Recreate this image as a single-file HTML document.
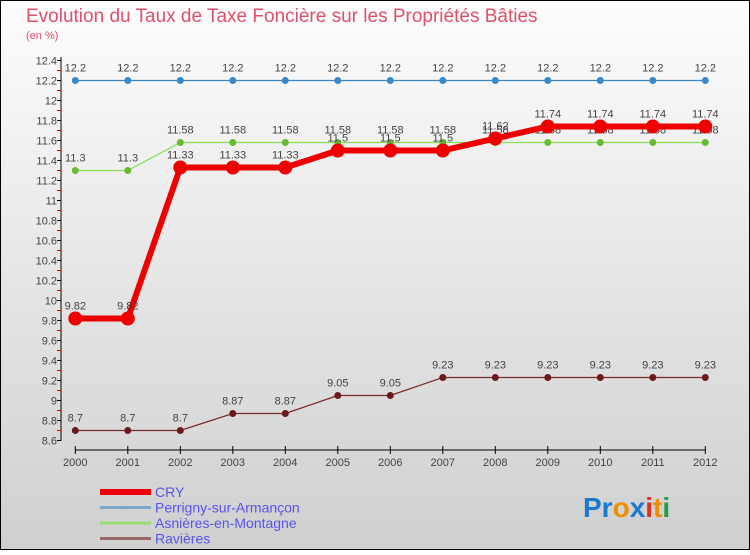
<!DOCTYPE html>
<html><head><meta charset="utf-8"><style>
body{margin:0}
svg text{font-family:"Liberation Sans",sans-serif}
</style></head><body>
<svg id="chart" width="750" height="550" xmlns="http://www.w3.org/2000/svg">
<defs><linearGradient id="bg" x1="0" y1="0" x2="0" y2="1"><stop offset="0" stop-color="#fdfdfd"/><stop offset="1" stop-color="#cfcfcf"/></linearGradient></defs>
<rect x="0.5" y="0.5" width="749" height="549" fill="url(#bg)" stroke="#000"/>
<text x="26" y="22" font-size="19" fill="#e0506a">Evolution du Taux de Taxe Foncière sur les Propriétés Bâties</text>
<text x="26" y="39" font-size="11" fill="#e0506a">(en %)</text>
<g id="axes"></g>
<g id="series"></g>
<g id="legend"></g>
<text x="583" y="517" font-size="28" font-weight="bold"><tspan fill="#1a7ad0">Pr</tspan><tspan fill="#f08c00">o</tspan><tspan fill="#1a7ad0">x</tspan><tspan fill="#e03020">i</tspan><tspan fill="#f08c00">t</tspan><tspan fill="#20a040">i</tspan></text>
</svg>
<script>
const years=[2000,2001,2002,2003,2004,2005,2006,2007,2008,2009,2010,2011,2012];
const yTicks=[8.6,8.8,9,9.2,9.4,9.6,9.8,10,10.2,10.4,10.6,10.8,11,11.2,11.4,11.6,11.8,12,12.2,12.4];
const cry=[9.82,9.82,11.33,11.33,11.33,11.5,11.5,11.5,11.62,11.74,11.74,11.74,11.74];
const perrigny=[12.2,12.2,12.2,12.2,12.2,12.2,12.2,12.2,12.2,12.2,12.2,12.2,12.2];
const asnieres=[11.3,11.3,11.58,11.58,11.58,11.58,11.58,11.58,11.58,11.58,11.58,11.58,11.58];
const ravieres=[8.7,8.7,8.7,8.87,8.87,9.05,9.05,9.23,9.23,9.23,9.23,9.23,9.23];
const names=["CRY","Perrigny-sur-Armançon","Asnières-en-Montagne","Ravières"];
const NS="http://www.w3.org/2000/svg";
const xS=i=>75.3+i*52.5;
const yS=v=>440.5-(v-8.6)/0.2*20;
function mk(tag,attrs,parent,txt){const e=document.createElementNS(NS,tag);for(const k in attrs)e.setAttribute(k,attrs[k]);if(txt!==undefined)e.textContent=txt;parent.appendChild(e);return e;}
const ax=document.getElementById('axes');
let l=mk('line',{x1:61,y1:57,x2:61,y2:441,stroke:'#000'},ax);


yTicks.forEach((v,i)=>{
  mk('line',{x1:57,x2:61,y1:yS(v),y2:yS(v),stroke:'#000'},ax);
  if(i<yTicks.length-1) mk('line',{x1:57,x2:61,y1:yS(v)-10,y2:yS(v)-10,stroke:'#e00'},ax);
  const t=mk('text',{x:57,y:yS(v)+4,'font-size':11,fill:'#444','text-anchor':'end'},ax,String(v));
  
  
});
l=mk('line',{x1:75,y1:450,x2:706,y2:450,stroke:'#000'},ax);


years.forEach((y,i)=>{
  mk('line',{x1:xS(i),x2:xS(i),y1:446,y2:454,stroke:'#000'},ax);
  const t=mk('text',{x:xS(i),y:466,'font-size':11,fill:'#444','text-anchor':'middle'},ax,String(y));
  
  
});
const sg=document.getElementById('series');
const defs=[[perrigny,'#3a88c8',1.2,3.5,'#3a88c8','perrigny'],[asnieres,'#88dd55',1.2,3.5,'#66bb33','asnieres'],[ravieres,'#7a2a2a',1.2,3.5,'#6a1a1a','ravieres'],[cry,'#ee0000',6,7,'#ee0000','cry']];
defs.forEach(([d,c,w,r,fc,n])=>{
  const p=mk('polyline',{points:d.map((v,i)=>xS(i)+','+yS(v)).join(' '),fill:'none',stroke:c,'stroke-width':w},sg);
  
  
  d.forEach((v,i)=>{
    const m=mk('circle',{cx:xS(i),cy:yS(v),r:r,fill:fc},sg);
    
    
    const t=mk('text',{x:xS(i),y:yS(v)-9,'font-size':11,fill:'#444','text-anchor':'middle'},sg,String(v));
    
    
  });
});
const lg=document.getElementById('legend');
const lc=[['#ee0000',6],['#7aa8cc',3],['#99dd77',3],['#996666',3]];
names.forEach((n,i)=>{
  const y=492+i*15.5;
  const s=mk('line',{x1:100,x2:151,y1:y,y2:y,stroke:lc[i][0],'stroke-width':lc[i][1]},lg);
  
  
  const t=mk('text',{x:155,y:y+5,'font-size':14,fill:'#5555ee'},lg,n);
  
  
});
</script>
</body></html>
